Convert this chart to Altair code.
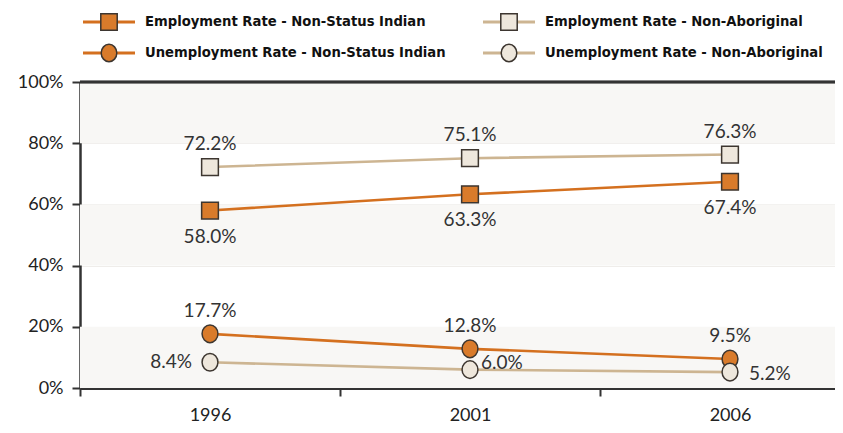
import altair as alt
import pandas as pd

years = [1996, 2001, 2006]
emp_nsi = [58.0, 63.3, 67.4]
emp_na = [72.2, 75.1, 76.3]
unemp_nsi = [17.7, 12.8, 9.5]
unemp_na = [8.4, 6.0, 5.2]

series_names = [
    "Employment Rate - Non-Status Indian",
    "Employment Rate - Non-Aboriginal",
    "Unemployment Rate - Non-Status Indian",
    "Unemployment Rate - Non-Aboriginal",
]
series_values = [emp_nsi, emp_na, unemp_nsi, unemp_na]
series_shapes = ["square", "square", "circle", "circle"]
line_colors = ["#d4701f", "#cdb592", "#d4701f", "#cdb592"]
fill_colors = ["#d97b2b", "#eee7dc", "#d97b2b", "#eee7dc"]

band_lo = [0, 40, 80]
band_hi = [20, 60, 100]

W, H = 755, 306
FONT = "Lato"
MARK_STROKE = "#3d3630"
ELLIPSE = "M-0.9,0A0.9,1,0,1,0,0.9,0A0.9,1,0,1,0,-0.9,0Z"

rows = []
for name, vals in zip(series_names, series_values):
    for y, v in zip(years, vals):
        rows.append({"series": name, "year": y, "value": v})
df = pd.DataFrame(rows)
bands = pd.DataFrame({"lo": band_lo, "hi": band_hi})

xscale = alt.Scale(domain=[1993.5, 1993.5 + W / 52.0], nice=False, zero=False)
yscale = alt.Scale(domain=[0, 100], nice=False)

x_axis = alt.Axis(
    values=[1993.5, 1996, 1998.5, 2001, 2003.5, 2006],
    labelExpr="datum.value % 1 == 0 ? '' + datum.value : ''",
    tickOpacity={"condition": {"test": "datum.value % 1 == 0", "value": 0}, "value": 1},
    title=None, grid=False, domainColor="#333333", domainWidth=3,
    tickColor="#333333", tickWidth=2, tickSize=8, labelPadding=10,
    labelFont=FONT, labelFontSize=18, labelColor="#222222",
)
y_axis = alt.Axis(
    values=[0, 20, 40, 60, 80, 100], labelExpr="datum.value + '%'",
    title=None, grid=True, gridColor="#efedea", gridWidth=1,
    domainColor="#333333", domainWidth=2.5, tickColor="#333333",
    tickWidth=2, tickSize=8, labelPadding=9,
    labelFont=FONT, labelFontSize=18, labelColor="#222222",
)

base = alt.Chart(df)

band_layer = alt.Chart(bands).mark_rect(color="#f8f7f5").encode(
    y=alt.Y("lo:Q", scale=yscale, axis=y_axis),
    y2="hi:Q",
    x=alt.value(0), x2=alt.value(W),
)
top_rule = alt.Chart(bands).mark_rule(color="#333333", strokeWidth=2.5).encode(
    y=alt.datum(100), x=alt.value(0), x2=alt.value(W)
)

color_scale = alt.Scale(domain=series_names, range=line_colors)
fill_scale = alt.Scale(domain=series_names, range=fill_colors)

lines = base.mark_line(strokeWidth=2.6).encode(
    x=alt.X("year:Q", scale=xscale, axis=x_axis),
    y=alt.Y("value:Q", scale=yscale),
    color=alt.Color("series:N", scale=color_scale, legend=None),
    detail="series:N",
)

sq = base.transform_filter("indexof(datum.series, 'Employment') == 0").mark_point(
    shape="square", size=280, filled=True, stroke=MARK_STROKE, strokeWidth=1.5, opacity=1
).encode(
    x=alt.X("year:Q", scale=xscale),
    y=alt.Y("value:Q", scale=yscale),
    fill=alt.Fill("series:N", scale=fill_scale, legend=None),
)
circ = base.transform_filter("indexof(datum.series, 'Unemployment') == 0").mark_point(
    shape=ELLIPSE, size=310, filled=True,
    stroke=MARK_STROKE, strokeWidth=1.5, opacity=1
).encode(
    x=alt.X("year:Q", scale=xscale),
    y=alt.Y("value:Q", scale=yscale),
    fill=alt.Fill("series:N", scale=fill_scale, legend=None),
)


def label_layer(series, dx=0, dy=0, align="center", year=None):
    test = "datum.series == '%s'" % series
    if year is not None:
        test += " && datum.year == %d" % year
    c = base.transform_filter(test)
    return c.transform_calculate(
        label="format(datum.value, '.1f') + '%'"
    ).mark_text(
        font=FONT, fontSize=19, color="#333333", dx=dx, dy=dy, align=align, baseline="middle"
    ).encode(
        x=alt.X("year:Q", scale=xscale),
        y=alt.Y("value:Q", scale=yscale),
        text="label:N",
    )


labels = [
    label_layer(series_names[0], dy=26),
    label_layer(series_names[1], dy=-23),
    label_layer(series_names[2], dy=-23),
    label_layer(series_names[3], dx=-18, align="right", year=1996),
    label_layer(series_names[3], dx=11, dy=-7, align="left", year=2001),
    label_layer(series_names[3], dx=19, dy=2, align="left", year=2006),
]

# legend (2 columns x 2 rows) above the plot
legend_layers = []
leg_df = pd.DataFrame({"k": [0]})
for i, name in enumerate(series_names):
    col = i % 2
    row = i // 2
    cx = 29 + col * 400
    cy = -60 + row * 31
    legend_layers.append(
        alt.Chart(leg_df).mark_rule(color=line_colors[i], strokeWidth=3).encode(
            x=alt.value(cx - 26), x2=alt.value(cx + 26), y=alt.value(cy)
        )
    )
    legend_layers.append(
        alt.Chart(leg_df).mark_point(
            shape="square" if series_shapes[i] == "square" else ELLIPSE,
            size=270 if series_shapes[i] == "square" else 300,
            filled=True, fill=fill_colors[i], stroke=MARK_STROKE, strokeWidth=1.5, opacity=1,
        ).encode(x=alt.value(cx), y=alt.value(cy))
    )
    legend_layers.append(
        alt.Chart(leg_df).mark_text(
            text=name, font="DejaVu Sans", fontSize=13.2, fontWeight="bold", color="#111111",
            align="left", baseline="middle",
        ).encode(x=alt.value(cx + 36), y=alt.value(cy))
    )

chart = alt.layer(
    band_layer, top_rule, lines, sq, circ, *labels, *legend_layers
).properties(
    width=W, height=H,
    padding={"left": 72, "top": 74, "right": 0, "bottom": 37},
    autosize=alt.AutoSizeParams(type="none"),
    background="white",
).configure_view(stroke=None)

chart.save("out.html", embed_options={"renderer": "svg", "actions": False})
